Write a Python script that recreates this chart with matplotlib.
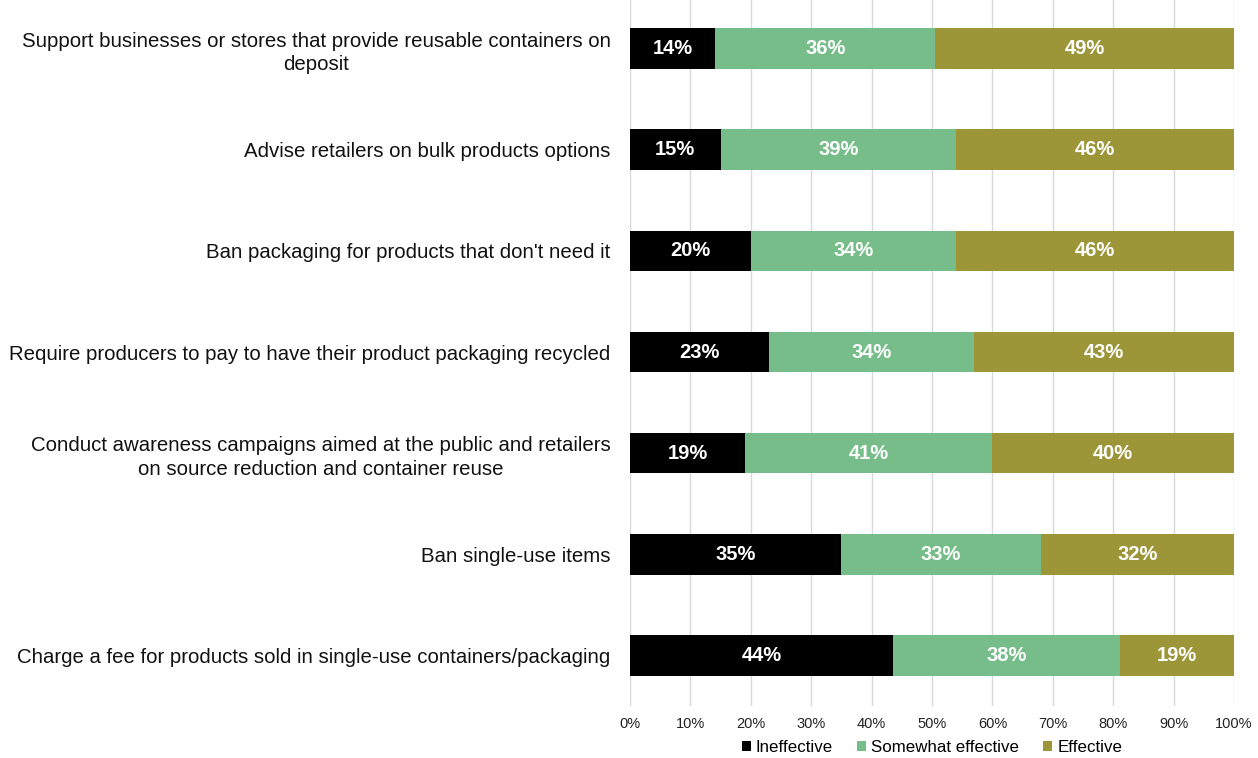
import matplotlib.pyplot as plt
import numpy as np

plt.rcParams['font.family'] = ['Liberation Sans', 'DejaVu Sans']

categories = [
    'Support businesses or stores that provide reusable containers on\ndeposit',
    'Advise retailers on bulk products options',
    "Ban packaging for products that don't need it",
    'Require producers to pay to have their product packaging recycled',
    'Conduct awareness campaigns aimed at the public and retailers\non source reduction and container reuse',
    'Ban single-use items',
    'Charge a fee for products sold in single-use containers/packaging',
]
ineffective = [14, 15, 20, 23, 19, 35, 44]
somewhat = [36, 39, 34, 34, 41, 33, 38]
effective = [49, 46, 46, 43, 40, 32, 19]

series = ['Ineffective', 'Somewhat effective', 'Effective']
colors = ['#000000', '#76BD8A', '#9C9639']

data = np.array([ineffective, somewhat, effective], dtype=float)
share = data / data.sum(axis=0) * 100  # 100% stacked, like Excel

fig = plt.figure(figsize=(12.58, 7.58), dpi=100)
ax = fig.add_axes([630 / 1258, 52 / 758, 604 / 1258, 708 / 758])

y = np.arange(len(categories))
left = np.zeros(len(categories))
for k in range(3):
    bars = ax.barh(y, share[k], left=left, height=0.4, color=colors[k],
                   label=series[k], zorder=3)
    for i, b in enumerate(bars):
        ax.text(left[i] + share[k][i] / 2, y[i], f'{int(data[k][i])}%',
                ha='center', va='center', color='white', fontsize=14.5,
                fontweight='bold', zorder=4)
    left += share[k]

ax.set_xlim(0, 100)
ax.set_ylim(len(categories) - 0.5, -0.5)
ax.set_xticks(np.arange(0, 101, 10))
ax.set_xticklabels([f'{v}%' for v in range(0, 101, 10)], fontsize=10.5, color='#222222')
ax.set_yticks(y)
ax.set_yticklabels(categories, fontsize=14.7, color='#111111', ha='right',
                   multialignment='center', linespacing=1.3)
ax.tick_params(axis='y', length=0, pad=14)
ax.tick_params(axis='x', length=0, pad=8)
ax.grid(axis='x', color='#d9d9d9', linewidth=1, zorder=0)
for s in ax.spines.values():
    s.set_visible(False)

ax.legend(loc='upper center', bbox_to_anchor=(0.5, -0.038), ncol=3, frameon=False,
          fontsize=12.2, handlelength=0.55, handleheight=0.55, handletextpad=0.3,
          columnspacing=1.4, borderaxespad=0)

fig.savefig('out.png', dpi=100, facecolor='white')
